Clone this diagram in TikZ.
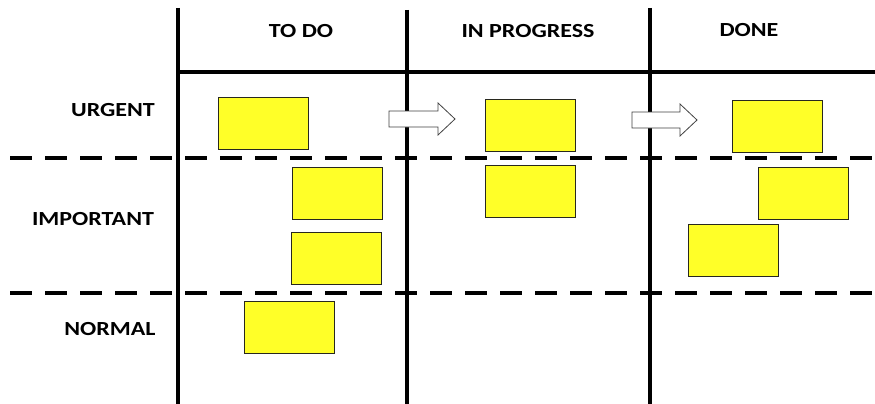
\documentclass[tikz,border=0pt]{standalone}
\usepackage{fontspec}
\newfontfamily\boardfont[FakeStretch=1.2]{Carlito}
\definecolor{noteyellow}{RGB}{255,255,40}
\definecolor{noteedge}{RGB}{40,40,30}
\begin{document}
\begin{tikzpicture}[x=1pt,y=-1pt,
  head/.style={font=\boardfont\bfseries\fontsize{20}{22}\selectfont, inner sep=0pt},
  grid/.style={line width=3.6pt},
  lane/.style={line width=3.6pt, dash pattern=on 22pt off 13pt},
  note/.style={draw=noteedge, line width=1.1pt, fill=noteyellow, minimum width=90pt, minimum height=52pt, inner sep=0pt, anchor=north west},
  move/.style={draw=black!75, line width=0.8pt, fill=white}]
  \useasboundingbox (0,0) rectangle (875,404);

  % column and row rules
  \coordinate (c1t) at (178,8);   \coordinate (c1b) at (178,404);
  \coordinate (c2t) at (407,10);  \coordinate (c2b) at (407,404);
  \coordinate (c3t) at (650,8);   \coordinate (c3b) at (650,404);
  \coordinate (hl) at (176,72);   \coordinate (hr) at (875,72);
  \coordinate (d1l) at (10,158);  \coordinate (d1r) at (875,158);
  \coordinate (d2l) at (10,293);  \coordinate (d2r) at (875,293);
  \draw[grid] (c1t) -- (c1b);
  \draw[grid] (c2t) -- (c2b);
  \draw[grid] (c3t) -- (c3b);
  \draw[grid] (hl) -- (hr);
  \draw[lane] (d1l) -- (d1r);
  \draw[lane] (d2l) -- (d2r);

  % column headings
  \node[head] (todo) at (301,31) {TO DO};
  \node[head] (prog) at (528,31) {IN PROGRESS};
  \node[head] (done) at (749,30) {DONE};

  % row headings
  \node[head] (urg) at (113,110) {URGENT};
  \node[head] (imp) at (93,219) {IMPORTANT};
  \node[head] (nor) at (110,329) {NORMAL};

  % cards
  \node[note] (t1) at (218,97) {};
  \node[note] (t2) at (292,167) {};
  \node[note] (t3) at (291,232) {};
  \node[note] (t4) at (244,301) {};
  \node[note] (p1) at (485,99) {};
  \node[note] (p2) at (485,165) {};
  \node[note] (d1) at (732,100) {};
  \node[note] (d2) at (758,167) {};
  \node[note] (d3) at (688,224) {};

  % flow arrows
  \draw[move] (389,111) -- (438,111) -- (438,103) -- (455,119) -- (438,135) -- (438,127) -- (389,127) -- cycle;
  \draw[move] (632,112) -- (680,112) -- (680,104) -- (697,120) -- (680,136) -- (680,128) -- (632,128) -- cycle;
\end{tikzpicture}
\end{document}
